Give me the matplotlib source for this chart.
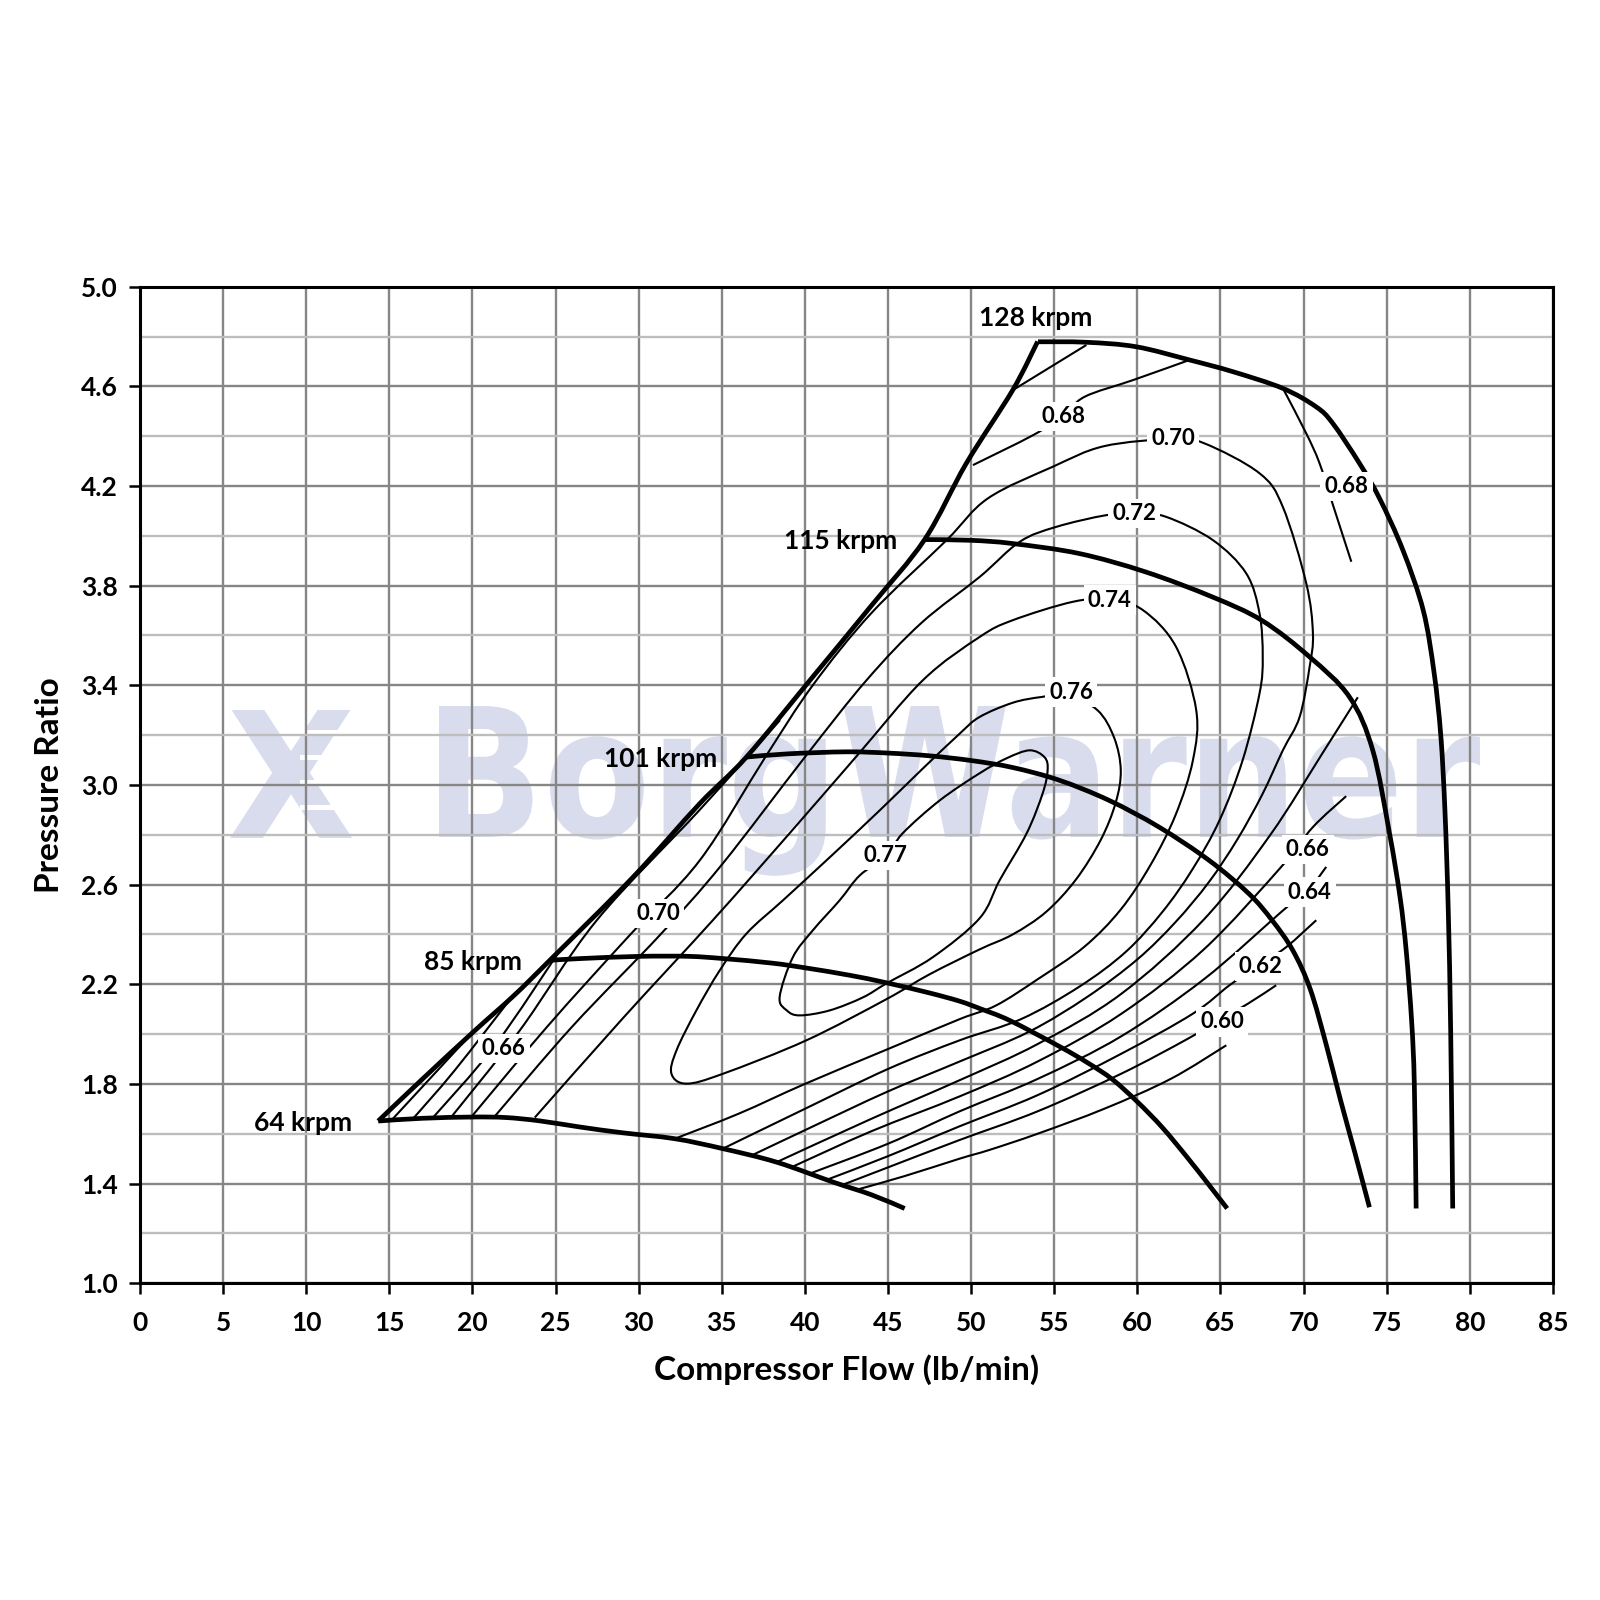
import numpy as np
import matplotlib
matplotlib.use("Agg")
import matplotlib.pyplot as plt
from matplotlib.path import Path
from matplotlib.textpath import TextPath
from matplotlib.patches import PathPatch
from matplotlib.font_manager import FontProperties
from matplotlib.transforms import Affine2D, IdentityTransform

plt.rcParams['font.family'] = ['Lato', 'DejaVu Sans']

# ---- surge line and speed lines (lb/min, pressure ratio) ----
surge_x = [14.33, 17.0, 20.04, 22.5, 24.65, 29.66, 33.67, 36.48, 40.3, 44.0, 47.2, 49.7, 52.5, 54.0]
surge_y = [1.651, 1.82, 2.008, 2.155, 2.296, 2.63, 2.925, 3.112, 3.42, 3.72, 3.985, 4.29, 4.585, 4.78]

spd64_x = [14.33, 17, 20, 22, 24, 26.46, 29, 32.17, 35.07, 38.29, 41.69, 44, 46.0]
spd64_y = [1.651, 1.662, 1.667, 1.665, 1.652, 1.627, 1.604, 1.58, 1.54, 1.486, 1.406, 1.355, 1.30]

spd85_x = [24.65, 26.46, 30.07, 33, 35.1, 38, 40.1, 42.7, 44.9, 47.5, 49.31, 50.5, 52.31, 55.32, 57, 58.5, 60,
           61.5, 63, 64.3, 65.4]
spd85_y = [2.296, 2.303, 2.312, 2.312, 2.303, 2.285, 2.265, 2.236, 2.206, 2.165, 2.132, 2.103, 2.055, 1.95, 1.885,
           1.818, 1.728, 1.625, 1.505, 1.395, 1.30]

spd101_x = [36.48, 39, 42.5, 45, 47.5, 50, 52.5, 55.3, 58.3, 61.3, 64.3, 66.7, 68.1, 69.35, 70.4, 71.35, 72.2,
            73.1, 73.96]
spd101_y = [3.112, 3.125, 3.133, 3.128, 3.117, 3.098, 3.07, 3.019, 2.938, 2.831, 2.698, 2.564, 2.457, 2.336, 2.18,
            1.96, 1.74, 1.52, 1.305]

spd115_x = [47.2, 50, 52.5, 56.5, 60.5, 64.5, 67.5, 70.36, 72.76, 74.16, 75.17, 75.8, 76.17, 76.5, 76.66, 76.77]
spd115_y = [3.985, 3.982, 3.969, 3.929, 3.855, 3.755, 3.66, 3.514, 3.353, 3.139, 2.805, 2.55, 2.336, 2.05, 1.80, 1.30]

spd128_x = [54.02, 56.93, 59.93, 63.14, 65.74, 68.75, 70.75, 71.76, 73.36, 74.57, 75.97, 77.2, 77.85, 78.25, 78.5,
            78.7, 78.85, 78.97]
spd128_y = [4.779, 4.777, 4.759, 4.706, 4.659, 4.592, 4.518, 4.451, 4.291, 4.15, 3.943, 3.70, 3.45, 3.2, 2.9,
            2.5, 2.0, 1.30]

speed_names = ['64 krpm', '85 krpm', '101 krpm', '115 krpm', '128 krpm']
speed_label_x = [9.8, 20.05, 31.34, 42.14, 53.86]
speed_label_y = [1.644, 2.291, 3.106, 3.98, 4.873]

# ---- efficiency islands ----
eff077_x = [38.48, 39.27, 40.47, 42.09, 43.30, 44.92, 45.88, 48.11, 50.51, 52.13, 53.52, 54.42, 54.60, 54.30, 53.34,
            51.71, 50.51, 47.68, 44.92, 43.48, 41.49, 39.69, 38.91]
eff077_y = [2.149, 2.308, 2.416, 2.537, 2.637, 2.717, 2.806, 2.938, 3.047, 3.107, 3.139, 3.111, 3.059, 2.966, 2.806,
            2.617, 2.465, 2.308, 2.204, 2.147, 2.095, 2.075, 2.095]

eff076_x = [31.97, 32.27, 33.47, 34.88, 36.48, 38.68, 41.5, 44.5, 47.0, 49.31, 50.51, 52.5, 54.22, 55.8, 57.6, 58.6,
            59.0, 58.7, 57.8, 56.3, 54.5, 52.5, 50.51, 47.5, 44.9, 40.09, 35.08, 32.87]
eff076_y = [1.841, 1.934, 2.095, 2.256, 2.403, 2.537, 2.71, 2.898, 3.06, 3.206, 3.273, 3.33, 3.353, 3.36, 3.30, 3.19,
            3.06, 2.93, 2.78, 2.62, 2.49, 2.40, 2.34, 2.24, 2.14, 1.975, 1.841, 1.801]

eff074_x = [23.75, 29.0, 34.46, 39.0, 43.05, 47.09, 50.51, 52.49, 56.1, 58.3, 60.33, 62.33, 63.54, 63.34, 62.3,
            60.8, 59.0, 56.8, 54.0, 51.5, 49.31, 45.0, 40.0, 36.0, 32.17]
eff074_y = [1.665, 2.06, 2.457, 2.80, 3.111, 3.42, 3.594, 3.661, 3.735, 3.745, 3.702, 3.554, 3.30, 3.099, 2.88,
            2.68, 2.50, 2.35, 2.22, 2.115, 2.06, 1.94, 1.80, 1.68, 1.58]

eff072_x = [21.23, 26.0, 31.27, 35.0, 39.99, 43.7, 47.0, 50.51, 52.92, 55.12, 58.13, 59.95, 61.74, 64.54, 66.55,
            67.35, 67.54, 67.35, 66.33, 64.94, 63.3, 61.5, 59.3, 56.5, 53.0, 49.31, 45.0, 40.0, 35.06]
eff072_y = [1.661, 2.03, 2.397, 2.68, 3.111, 3.42, 3.65, 3.835, 3.976, 4.036, 4.083, 4.09, 4.076, 3.983, 3.849,
            3.688, 3.514, 3.368, 3.099, 2.858, 2.66, 2.49, 2.33, 2.19, 2.06, 1.975, 1.86, 1.70, 1.54]

eff070_x = [19.84, 24.5, 29.46, 33.67, 37.6, 40.47, 44.0, 48.51, 51.0, 54.9, 58.0, 62.15, 64.04, 67.35, 68.75, 70.16,
            70.56, 70.36, 69.76, 68.75, 67.5, 66.0, 64.3, 62.3, 60.0, 57.0, 53.5, 49.31, 45.0, 40.5, 36.86]
eff070_y = [1.66, 2.03, 2.397, 2.697, 3.11, 3.40, 3.69, 3.982, 4.15, 4.277, 4.36, 4.389, 4.371, 4.251, 4.116, 3.809,
            3.608, 3.474, 3.273, 3.139, 2.96, 2.78, 2.61, 2.45, 2.30, 2.15, 2.01, 1.89, 1.77, 1.63, 1.515]

eff068_x = [18.64, 22.85, 27.48, 33.67, 38.5]
eff068_y = [1.66, 2.015, 2.457, 2.90, 3.26]
eff068_top_x = [50.11, 53.72, 55.5, 56.82, 59.73, 63.14]
eff068_top_y = [4.284, 4.404, 4.48, 4.558, 4.625, 4.706]
eff068_right_x = [68.81, 70.16, 70.96, 71.77, 72.87]
eff068_right_y = [4.585, 4.411, 4.291, 4.123, 3.896]

eff066_x = [17.56, 21.35, 25.3]
eff066_y = [1.66, 1.954, 2.34]
eff066_top_x = [52.51, 56.93]
eff066_top_y = [4.585, 4.766]
eff064_x = [16.42, 18.94, 22.55]
eff064_y = [1.66, 1.855, 2.164]
eff062_x = [15.21, 19.96]
eff062_y = [1.66, 2.003]

# lower right fan (from the 64 krpm line towards the choke side)
fan4_x = [38.3, 44, 49.31, 54, 59, 64, 68, 71.16, 73.26]
fan4_y = [1.486, 1.66, 1.815, 1.96, 2.16, 2.46, 2.80, 3.13, 3.352]
fan5_x = [39.27, 44, 49.31, 54, 59, 64, 68.65, 70.56, 72.56]
fan5_y = [1.468, 1.61, 1.75, 1.89, 2.08, 2.34, 2.671, 2.831, 2.955]
fan6_x = [40.29, 45, 49.31, 54, 59, 64, 68.65, 70.4, 71.36]
fan6_y = [1.44, 1.56, 1.69, 1.82, 1.99, 2.22, 2.49, 2.59, 2.671]
fan7_x = [41.31, 45, 49.31, 54, 59, 63.34, 65.54, 67.4, 68.95, 70.76]
fan7_y = [1.415, 1.51, 1.63, 1.755, 1.92, 2.082, 2.196, 2.28, 2.349, 2.457]
fan8_x = [42.27, 45, 49.31, 54, 59, 63, 65, 66.65, 68.35]
fan8_y = [1.395, 1.465, 1.575, 1.69, 1.84, 1.98, 2.06, 2.122, 2.196]
fan9_x = [43.1, 46, 49.31, 51.1, 54, 58, 62, 65.35]
fan9_y = [1.375, 1.43, 1.50, 1.535, 1.60, 1.70, 1.82, 1.955]

eff_labels = ['0.68', '0.70', '0.68', '0.72', '0.74', '0.76', '0.77', '0.70', '0.66', '0.66', '0.64', '0.62', '0.60']
eff_label_x = [55.56, 62.15, 72.58, 59.81, 58.34, 56.01, 44.84, 31.16, 21.89, 70.25, 70.37, 67.42, 65.09]
eff_label_y = [4.48, 4.389, 4.197, 4.09, 3.742, 3.373, 2.717, 2.484, 1.943, 2.742, 2.570, 2.271, 2.049]


def smooth(xs, ys, closed=False):
    # cubic bezier path through the read points (Catmull-Rom control points)
    p = np.column_stack([xs, ys]).astype(float)
    n = len(p)
    verts = [p[0]]
    codes = [Path.MOVETO]
    segs = n if closed else n - 1
    for i in range(segs):
        p1 = p[i]
        p2 = p[(i + 1) % n]
        p0 = p[(i - 1) % n] if (closed or i > 0) else p1
        p3 = p[(i + 2) % n] if (closed or i + 2 < n) else p2
        verts += [p1 + (p2 - p0) / 6.0, p2 - (p3 - p1) / 6.0, p2]
        codes += [Path.CURVE4] * 3
    return Path(verts, codes)


fig = plt.figure(figsize=(16, 16), dpi=100)
ax = fig.add_axes([0.0875, 0.198, 0.8831, 0.6228])

# watermark behind the grid
wm_color = '#d9dcec'
fp = FontProperties(family='DejaVu Sans', weight='bold')
tp = TextPath((0, 0), 'BorgWarner', size=1, prop=fp)
ext = tp.get_extents()
cap = TextPath((0, 0), 'B', size=1, prop=fp).get_extents()
sx = (1480 - 439) / ext.width
sy = 131 / cap.height
tr = Affine2D().translate(-ext.x0, 0).scale(sx, sy).translate(439, 1600 - 837)
ax.add_patch(PathPatch(tr.transform_path(tp), facecolor=wm_color, edgecolor='none',
                       transform=IdentityTransform(), zorder=0.2, clip_on=False))
# logo mark: striped X
xp = TextPath((0, 0), 'X', size=1, prop=fp)
xe = xp.get_extents()
trx = Affine2D().translate(-xe.x0, -xe.y0).scale(122 / xe.width, 128 / xe.height).translate(230, 1600 - 838)
ax.add_patch(PathPatch(trx.transform_path(xp), facecolor=wm_color, edgecolor='none',
                       transform=IdentityTransform(), zorder=0.2))
for yy in [735, 760, 785, 810]:
    ax.add_patch(plt.Rectangle((300, 1600 - yy), 52, 5, facecolor='white', edgecolor='none',
                               transform=IdentityTransform(), zorder=0.3))

ax.set_xlim(0, 85)
ax.set_ylim(1.0, 5.0)
ax.set_xticks(range(0, 86, 5))
ax.set_yticks([1.0, 1.4, 1.8, 2.2, 2.6, 3.0, 3.4, 3.8, 4.2, 4.6, 5.0])
ax.set_yticks([1.2, 1.6, 2.0, 2.4, 2.8, 3.2, 3.6, 4.0, 4.4, 4.8], minor=True)
ax.set_yticklabels(['1.0', '1.4', '1.8', '2.2', '2.6', '3.0', '3.4', '3.8', '4.2', '4.6', '5.0'])
ax.set_axisbelow(True)
ax.grid(which='major', color='#868686', lw=1.7)
ax.grid(which='minor', axis='y', color='#bdbdbd', lw=1.7)
ax.tick_params(which='major', direction='out', length=8, width=1.8, labelsize=19)
ax.tick_params(axis='x', pad=12)
ax.tick_params(axis='y', pad=8)
ax.tick_params(which='minor', length=0)
for lab in ax.get_xticklabels() + ax.get_yticklabels():
    lab.set_fontweight('bold')
for sp in ax.spines.values():
    sp.set_linewidth(2.2)
    sp.set_color('black')

ax.set_xlabel('Compressor Flow (lb/min)', fontsize=24, fontweight='bold', labelpad=14)
ax.set_ylabel('Pressure Ratio', fontsize=24, fontweight='bold', labelpad=12)

lines_thin = [(eff077_x, eff077_y, True), (eff076_x, eff076_y, True), (eff074_x, eff074_y, False),
              (eff072_x, eff072_y, False), (eff070_x, eff070_y, False), (eff068_x, eff068_y, False),
              (eff068_top_x, eff068_top_y, False), (eff068_right_x, eff068_right_y, False),
              (eff066_x, eff066_y, False), (eff066_top_x, eff066_top_y, False), (eff064_x, eff064_y, False),
              (eff062_x, eff062_y, False), (fan4_x, fan4_y, False), (fan5_x, fan5_y, False),
              (fan6_x, fan6_y, False), (fan7_x, fan7_y, False), (fan8_x, fan8_y, False),
              (fan9_x, fan9_y, False)]
for xs, ys, closed in lines_thin:
    ax.add_patch(PathPatch(smooth(xs, ys, closed), facecolor='none', edgecolor='black', lw=1.5, zorder=3))

for xs, ys in [(surge_x, surge_y), (spd64_x, spd64_y), (spd85_x, spd85_y), (spd101_x, spd101_y),
               (spd115_x, spd115_y), (spd128_x, spd128_y)]:
    ax.add_patch(PathPatch(smooth(xs, ys), facecolor='none', edgecolor='black', lw=3.4, zorder=4,
                           capstyle='butt', joinstyle='round'))

for s, x, y in zip(speed_names, speed_label_x, speed_label_y):
    ax.text(x, y, s, ha='center', va='center', fontsize=19, fontweight='bold', zorder=6)

for s, x, y in zip(eff_labels, eff_label_x, eff_label_y):
    ax.text(x, y, s, ha='center', va='center', fontsize=16, fontweight='bold', zorder=6,
            bbox=dict(facecolor='white', edgecolor='none', pad=3))

fig.savefig('out.png', dpi=100, facecolor='white')
